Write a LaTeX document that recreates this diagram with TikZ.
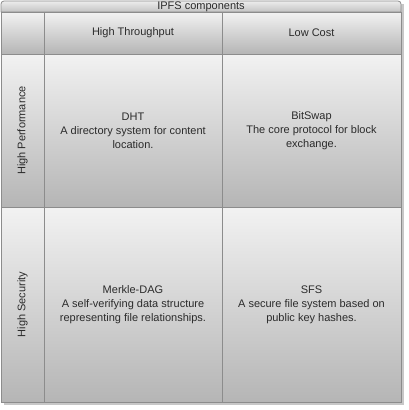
\documentclass[tikz,border=0pt]{standalone}
\usepackage{fontspec}
\setmainfont{Liberation Sans}
\usetikzlibrary{positioning}
\definecolor{celltop}{gray}{0.95}
\definecolor{cellbot}{gray}{0.71}
\definecolor{titletop}{gray}{0.93}
\definecolor{titlebot}{gray}{0.76}
\definecolor{gridline}{gray}{0.55}
\definecolor{shadowgray}{gray}{0.78}
\definecolor{txt}{gray}{0.17}
\tikzset{
  cell/.style={top color=celltop, bottom color=cellbot, draw=gridline, line width=0.8pt},
  lbl/.style={text=txt, align=center, inner sep=1pt, font=\fontsize{11}{14}\selectfont}
}

\begin{document}
\begin{tikzpicture}[x=1pt,y=-1pt]
\useasboundingbox (0,0) rectangle (408,410);
% shadow
\fill[shadowgray] (4,4) rectangle (403.5,404.5);
% title bar
\shade[cell, top color=titletop, bottom color=titlebot] (1,12) [rounded corners=3]-- (1,1) -- (401,1) [sharp corners]-- (401,12) -- cycle;
\node[lbl] (title) at (201,6.5) {IPFS components};
% grid cells
\foreach \xa/\xb in {1/44,44/222,222/401} {
 \foreach \ya/\yb in {12/54,54/207,207/402} {
  \shade[cell] (\xa,\ya) rectangle (\xb,\yb);
 }
}
% headers
\node[lbl] (thru) at (133,33) {High Throughput};
\node[lbl] (cost) at (311.5,33) {Low Cost};
\node[lbl, rotate=90] (perf) at (22.5,130.5) {High Performance};
\node[lbl, rotate=90] (secu) at (22.5,304.5) {High Security};
% components
\node[lbl] (dht) at (133,130.5) {DHT\\A directory system for content\\location.};
\node[lbl] (bitswap) at (311.5,130.5) {BitSwap\\The core protocol for block\\exchange.};
\node[lbl] (merkle) at (133,304.5) {Merkle-DAG\\A self-verifying data structure\\representing file relationships.};
\node[lbl] (sfs) at (311.5,304.5) {SFS\\A secure file system based on\\public key hashes.};
\end{tikzpicture}
\end{document}
